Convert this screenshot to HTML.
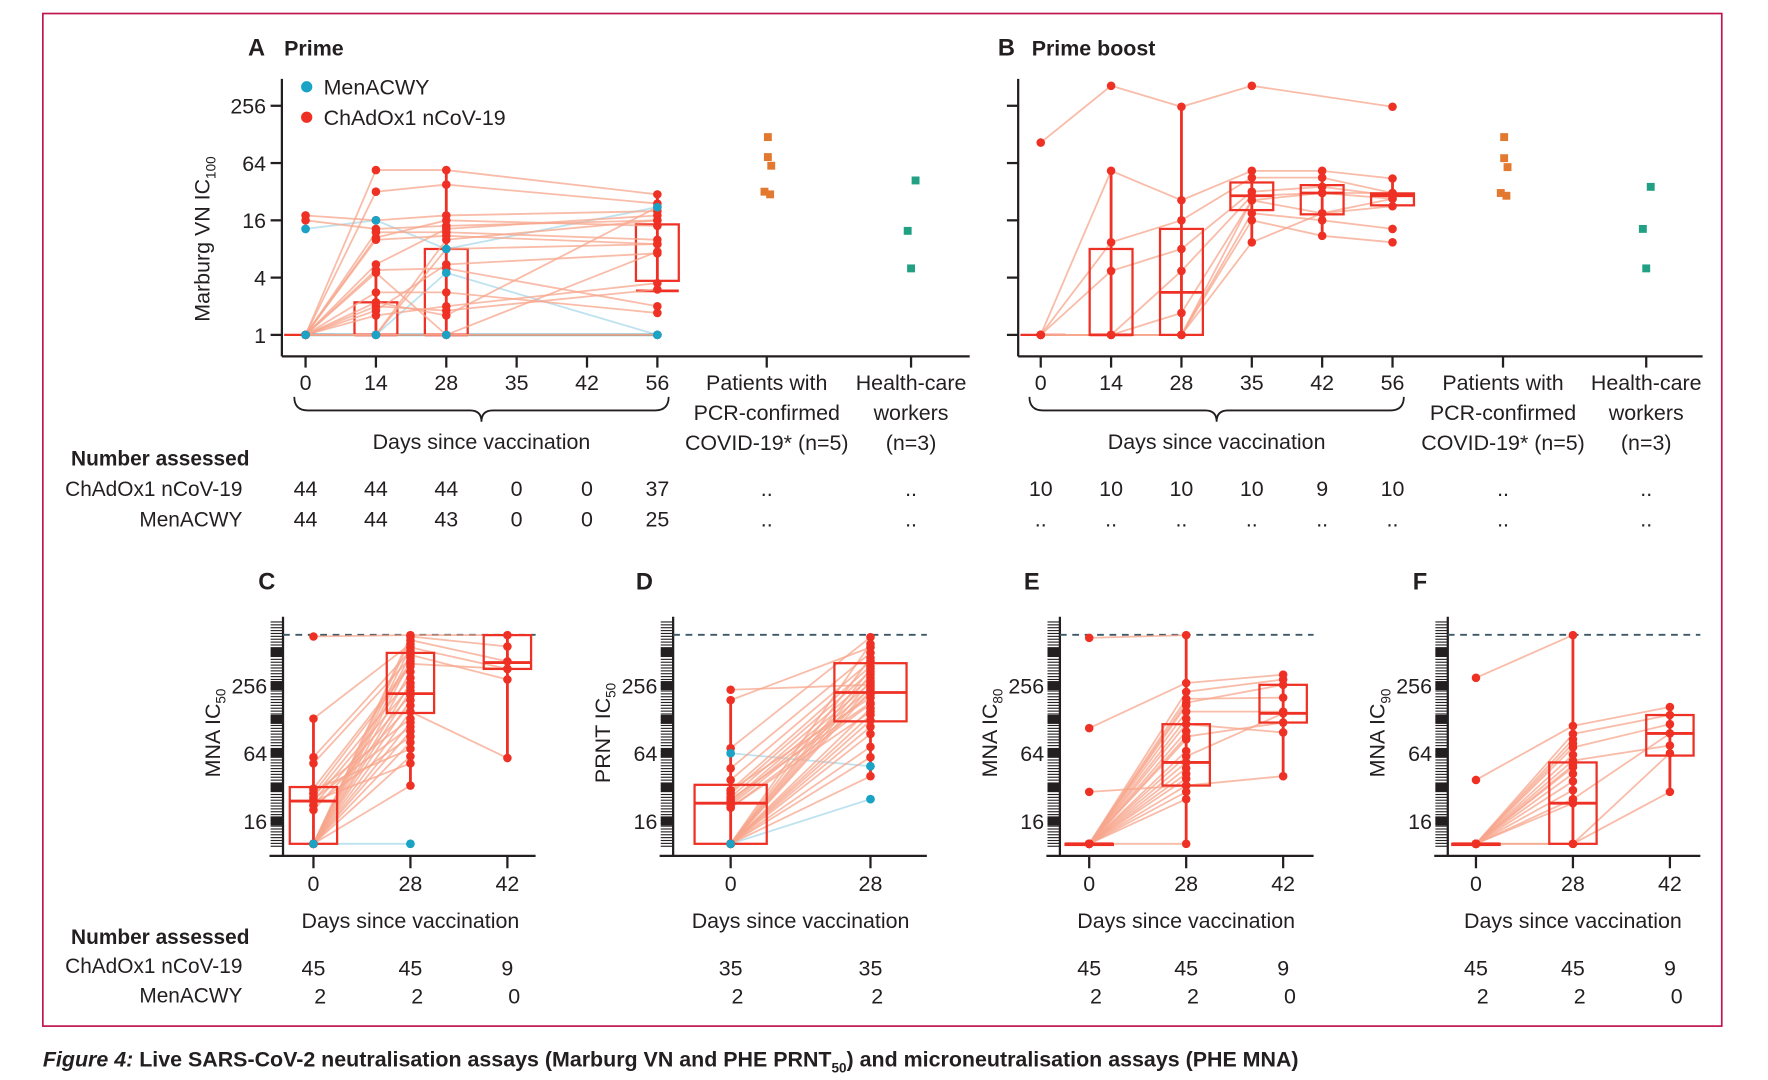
<!DOCTYPE html>
<html><head><meta charset="utf-8"><style>
html,body{margin:0;padding:0;background:#fff}
svg{display:block}
text{font-family:"Liberation Sans",sans-serif;fill:#231f20}
</style></head><body>
<svg id="fig" width="1768" height="1080" viewBox="0 0 1568 957.8" preserveAspectRatio="none" xmlns="http://www.w3.org/2000/svg">
<rect x="38" y="12" width="1489" height="898" fill="none" stroke="#c0164e" stroke-width="1.5"/>
<g id="static">
<text x="220" y="49" font-size="21" font-weight="bold">A</text>
<text x="252" y="49" font-size="19" font-weight="bold">Prime</text>
<text x="885" y="49" font-size="21" font-weight="bold">B</text>
<text x="915" y="49" font-size="19" font-weight="bold">Prime boost</text>
<circle cx="272" cy="77" r="5" fill="#1ba3c6"/>
<text x="287" y="84" font-size="19">MenACWY</text>
<circle cx="272" cy="104" r="5" fill="#ee3124"/>
<text x="287" y="111" font-size="19">ChAdOx1 nCoV-19</text>
<text transform="translate(186,212) rotate(-90)" text-anchor="middle" font-size="19">Marburg VN IC<tspan font-size="12" dy="5">100</tspan></text>
<text x="229" y="523" font-size="21" font-weight="bold">C</text>
<text x="564" y="523" font-size="21" font-weight="bold">D</text>
<text x="908" y="523" font-size="21" font-weight="bold">E</text>
<text x="1253" y="523" font-size="21" font-weight="bold">F</text>
<text x="63" y="413" font-size="18.5" font-weight="bold">Number assessed</text>
<text x="215" y="440" font-size="18.5" text-anchor="end">ChAdOx1 nCoV-19</text>
<text x="215" y="467" font-size="18.5" text-anchor="end">MenACWY</text>
<text x="63" y="837" font-size="18.5" font-weight="bold">Number assessed</text>
<text x="215" y="863" font-size="18.5" text-anchor="end">ChAdOx1 nCoV-19</text>
<text x="215" y="889" font-size="18.5" text-anchor="end">MenACWY</text>
<text x="38" y="946" font-size="19" font-weight="bold"><tspan font-style="italic">Figure 4:</tspan> Live SARS-CoV-2 neutralisation assays (Marburg VN and PHE PRNT<tspan font-size="12" dy="5">50</tspan><tspan dy="-5">) and microneutralisation assays (PHE MNA)</tspan></text>
</g>
<g id="plots"></g>
</svg>
<script>
// ---------- Panel A / B data (Marburg VN IC100) ----------
const topDays = [0, 14, 28, 35, 42, 56];
const topTickValues = [1, 4, 16, 64, 256];
const topTickLabels = ["1", "4", "16", "64", "256"];
// Panel A: participants values at days [0,14,28,56]
const aDays = [0, 14, 28, 56];
const aChad = [
  [1,54,54,30],[1,32,38,24],[18,16,18,20],[16,13,14,16],[1,12,12,10],
  [1,10.5,16,14],[1,10,11,9],[1,5.5,13,18],[1,4.8,5,2],[1,4.5,1,1],
  [1,2.8,2.8,1.7],[1,2,1.8,3],[1,1.8,5.5,7.2],[1,1.6,2,3.5],[1,1,10,16],
  [1,1,8,9],[1,1,1,7.5],[1,1,1,1],[1,2.2,1.6,22]
];
const aMen = [[13,16,8,22],[1,1,4.5,1],[1,1,1,1]];
// boxes: [day, q1, median, q3, whiskerLow, whiskerHigh]
const aBoxes = [[14,1,1,2.2,1,5.5],[28,1,1,8,1,54],[56,3.7,2.9,14.5,3.7,30]];
const aPatients = [120,74,60,32,30];
const aWorkers = [42,12.4,5];
const aCountsChad = ["44","44","44","0","0","37","..",".."];
const aCountsMen = ["44","44","43","0","0","25","..",".."];
// Panel B: participants values at days [0,14,28,35,42,56]
const bChad = [
  [105,415,250,415,null,250],[1,53,26,53,53,44],[1,9.4,16,45,45,31],[1,4.7,8,32,36,29],
  [1,1,4.7,29,31,27],[1,1,1.7,26,19,22.5],[1,1,1,19,16,13],[1,1,1,16,11,9.4],
  [1,1,1,9.4,19,27],[1,1,1,26,31,31]
];
const bBoxes = [[14,1,1,8,1,53],[28,1,2.8,13,1,250],[35,20.5,29,40,9.4,53],[42,18.5,31,37.5,11,53],[56,23,29,30.7,22.5,44]];
const bPatients = [120,72,58,31,29];
const bWorkers = [36,13,5];
const bCountsChad = ["10","10","10","10","9","10","..",".."];
const bCountsMen = ["..","..","..","..","..","..","..",".."];
// ---------- Panels C-F ----------
const lowDays = [0, 28, 42];
const lowTickValues = [16, 64, 256];
const lowTickLabels = ["16", "64", "256"];
const upperLimit = 724;
const cChad = [
  [700,720,720],[10,700,570],[10,650,420],[130,600,null],[10,560,360],[59,520,null],[10,480,290],
  [52,450,null],[10,420,null],[31,400,360],[28,380,null],[10,340,null],[26,300,null],[10,270,null],
  [24,250,null],[10,230,null],[22,210,null],[10,190,null],[20,170,null],[10,150,58],[28,130,null],
  [10,120,null],[25,110,null],[10,100,null],[22,90,null],[10,80,null],[30,70,null],[10,60,null],
  [24,52,null],[10,33,null]
];
const cMen = [[10,10,null]];
const cBoxes = [[0,10,24,32,10,130],[28,146,217,500,33,720],[42,360,410,720,58,720]];
const dChad = [
  [235,260],[190,560],[71,690],[47,500],[37,420],[30,380],[28,340],[26,300],[24,270],[23,240],
  [22,215],[21,175],[10,600],[10,450],[10,360],[10,320],[10,280],[10,250],[10,230],[10,160],
  [10,140],[10,125],[10,110],[10,95],[10,73],[10,59],[10,40],[30,200],[25,180],[21,150]
];
const dMen = [[64,49],[10,25]];
const dBoxes = [[0,10,23,33.5,10,190],[28,123,222,405,40,690]];
const eChad = [
  [680,720,null],[107,270,320],[29,33,40],[10,225,290],[10,195,200],[10,170,null],[10,150,150],
  [10,130,null],[10,116,98],[10,100,null],[10,85,null],[10,67,null],[10,60,145],[10,53,null],
  [10,47,null],[10,42,null],[10,38,null],[10,33,null],[10,29,null],[10,25,null],[10,10,null],
  [10,180,260],[10,90,120]
];
const eBoxes = [[0,10,10,10,10,10],[28,33,53,116,10,720],[42,120,145,260,40,320]];
const fChad = [
  [300,720,null],[37,112,165],[10,95,140],[10,85,null],[10,72,116],[10,62,null],[10,55,75],
  [10,48,null],[10,42,null],[10,36,null],[10,30,null],[10,25,96],[10,23,null],[10,10,64],
  [10,10,29],[10,78,null],[10,50,null]
];
const fBoxes = [[0,10,10,10,10,10],[28,10,23,53,10,720],[42,61,96,140,29,165]];
const countsC = [["45","45","9"],["2","2","0"]];
const countsD = [["35","35"],["2","2"]];
const countsE = [["45","45","9"],["2","2","0"]];
const countsF = [["45","45","9"],["2","2","0"]];

const NS = "http://www.w3.org/2000/svg";
const root = document.getElementById("plots");
function mk(tag, attrs, parent, txt) {
  const e = document.createElementNS(NS, tag);
  for (const k in attrs) e.setAttribute(k, attrs[k]);
  if (txt !== undefined) e.textContent = txt;
  (parent || root).appendChild(e);
  return e;
}
const RED = "#ee3124", LINE = "#f7a58c", BLUE = "#1ba3c6", PALEBLUE = "#a8d8ea";
const log2 = Math.log2;

function drawParticipants(g, rows, days, xf, yf, lineColor, dotColor, name) {
  rows.forEach(r => {
    const pts = [];
    r.forEach((v, i) => { if (v !== null) pts.push([xf(days[i]), yf(v)]); });
    if (pts.length > 1) {
      const pl = mk("polyline", {points: pts.map(p => p.join(",")).join(" "), fill: "none", stroke: lineColor, "stroke-width": 1.6, "stroke-opacity": 0.75}, g);
      
      
    }
  });
  rows.forEach(r => {
    r.forEach((v, i) => {
      if (v === null) return;
      const c = mk("circle", {cx: xf(days[i]), cy: yf(v), r: 3.8, fill: dotColor}, g);
      
      
    });
  });
}
function drawBoxes(g, boxes, xf, yf, hw) {
  boxes.forEach(b => {
    const x = xf(b[0]);
    const w = mk("line", {x1: x, x2: x, y1: yf(b[4]), y2: yf(b[5]), stroke: RED, "stroke-width": 2.5}, g);
    
    
    const lo = Math.min(b[1], b[3]), hi = Math.max(b[1], b[3]);
    const r = mk("rect", {x: x - hw, y: yf(hi), width: 2 * hw, height: Math.max(1, yf(lo) - yf(hi)), fill: "none", stroke: RED, "stroke-width": 2}, g);
    
    
    const m = mk("line", {x1: x - hw, x2: x + hw, y1: yf(b[2]), y2: yf(b[2]), stroke: RED, "stroke-width": 2.5}, g);
    
    
  });
}

// ---------- Top panels ----------
const yTop = v => 297 - log2(v) * 25.4;
function topPanel(cfg) {
  const g = mk("g", {});
  
  
  const xf = d => cfg.x0 + topDays.indexOf(d) * cfg.step;
  mk("line", {x1: cfg.ax, x2: cfg.ax, y1: 70, y2: 316, stroke: "#231f20", "stroke-width": 2}, g);
  mk("line", {x1: cfg.ax, x2: cfg.ax + cfg.len, y1: 316, y2: 316, stroke: "#231f20", "stroke-width": 2}, g);
  topTickValues.forEach((v, i) => {
    mk("line", {x1: cfg.ax - 10, x2: cfg.ax, y1: yTop(v), y2: yTop(v), stroke: "#231f20", "stroke-width": 2}, g);
    if (cfg.labels) {
      const t = mk("text", {x: cfg.ax - 14, y: yTop(v) + 7, "text-anchor": "end", "font-size": 19}, g, topTickLabels[i]);
      
      
    }
  });
  topDays.forEach(d => {
    mk("line", {x1: xf(d), x2: xf(d), y1: 316, y2: 326, stroke: "#231f20", "stroke-width": 2}, g);
    const t = mk("text", {x: xf(d), y: 346, "text-anchor": "middle", "font-size": 19}, g, String(d));
    
    
  });
  [cfg.px, cfg.hx].forEach(x => mk("line", {x1: x, x2: x, y1: 316, y2: 326, stroke: "#231f20", "stroke-width": 2}, g));
  [["Patients with", "PCR-confirmed", "COVID-19* (n=5)"], ["Health-care", "workers", "(n=3)"]].forEach((lines, k) => {
    const x = k === 0 ? cfg.px : cfg.hx;
    lines.forEach((s, j) => {
      const t = mk("text", {x: x, y: 346 + j * 26.5, "text-anchor": "middle", "font-size": 19}, g, s);
      
      
    });
  });
  const b0 = xf(0) - 10, b1 = xf(56) + 10, bm = (b0 + b1) / 2;
  const br = mk("path", {d: `M${b0},352 Q${b0},364 ${b0+12},364 L${bm-10},364 Q${bm},364 ${bm},374 Q${bm},364 ${bm+10},364 L${b1-12},364 Q${b1},364 ${b1},352`, fill: "none", stroke: "#231f20", "stroke-width": 1.6}, g);
  
  
  const dl = mk("text", {x: bm, y: 398, "text-anchor": "middle", "font-size": 19}, g, "Days since vaccination");
  
  
  cfg.draw(g, xf);
  cfg.patients.forEach((v, i) => {
    const s = mk("rect", {x: cfg.px + [1, 1, 4, -2, 3][i] - 3.5, y: yTop(v) - 3.5, width: 7, height: 7, fill: "#e3792f"}, g);
    
    
  });
  cfg.workers.forEach((v, i) => {
    const s = mk("rect", {x: cfg.hx + [4, -3, 0][i] - 3.5, y: yTop(v) - 3.5, width: 7, height: 7, fill: "#22a083"}, g);
    
    
  });
  const cols = topDays.map(xf).concat([cfg.px, cfg.hx]);
  [cfg.c1, cfg.c2].forEach((arr, r) => arr.forEach((s, i) => {
    const t = mk("text", {x: cols[i], y: 440 + r * 27, "text-anchor": "middle", "font-size": 19}, g, s);
    
    
  }));
}
topPanel({name: "panel-a", ax: 250, len: 610, x0: 271, step: 62.4, px: 680, hx: 808, labels: true,
  patients: aPatients, workers: aWorkers, c1: aCountsChad, c2: aCountsMen,
  draw: (g, xf) => {
    mk("line", {x1: 252, x2: 297, y1: yTop(1), y2: yTop(1), stroke: RED, "stroke-width": 2}, g);
    drawParticipants(g, aMen, aDays, xf, yTop, PALEBLUE, BLUE, "menacwy");
    mk("line", {x1: xf(0), x2: xf(56), y1: yTop(1), y2: yTop(1), stroke: "#2a8ea0", "stroke-width": 2.2}, g);
    drawBoxes(g, aBoxes, xf, yTop, 19);
    drawParticipants(g, aChad, aDays, xf, yTop, LINE, RED, "chadox");
    aMen.forEach(r => r.forEach((v, i) => { const c = mk("circle", {cx: xf(aDays[i]), cy: yTop(v), r: 3.8, fill: BLUE}, g);   }));
  }});
topPanel({name: "panel-b", ax: 903, len: 607, x0: 923, step: 62.4, px: 1333, hx: 1460, labels: false,
  patients: bPatients, workers: bWorkers, c1: bCountsChad, c2: bCountsMen,
  draw: (g, xf) => {
    mk("line", {x1: 905, x2: 945, y1: yTop(1), y2: yTop(1), stroke: RED, "stroke-width": 2}, g);
    drawParticipants(g, bChad, topDays, xf, yTop, LINE, RED, "chadox");
    drawBoxes(g, bBoxes, xf, yTop, 19);
  }});

// ---------- Bottom panels ----------
const yLow = v => 728 - (log2(v) - 4) * 30;
function lowPanel(cfg) {
  const g = mk("g", {});
  
  
  const days = lowDays.slice(0, cfg.n);
  const xf = d => cfg.x0 + lowDays.indexOf(d) * cfg.step;
  for (let l = 3.25; l <= 9.95; l += 0.085) {
    const y = 728 - (l - 4) * 30;
    mk("line", {x1: cfg.ax - 11, x2: cfg.ax, y1: y, y2: y, stroke: "#231f20", "stroke-width": 1}, g);
  }
  for (let k = 4; k <= 9; k++) {
    const y = 728 - (k - 4) * 30;
    mk("rect", {x: cfg.ax - 11, y: y - 4, width: 11, height: 8, fill: "#231f20"}, g);
  }
  mk("line", {x1: cfg.ax, x2: cfg.ax, y1: 547, y2: 759, stroke: "#231f20", "stroke-width": 2}, g);
  mk("line", {x1: cfg.ax - 12, x2: cfg.xend, y1: 759, y2: 759, stroke: "#231f20", "stroke-width": 2}, g);
  lowTickValues.forEach((v, i) => {
    const t = mk("text", {x: cfg.ax - 14, y: yLow(v) + 7, "text-anchor": "end", "font-size": 19}, g, lowTickLabels[i]);
    
    
  });
  const yt = mk("text", {transform: `translate(${cfg.ax - 56},650) rotate(-90)`, "text-anchor": "middle", "font-size": 19}, g);
  
  
  yt.appendChild(document.createTextNode(cfg.ylab));
  mk("tspan", {"font-size": 12, dy: 5}, yt, cfg.sub);
  const dash = mk("line", {x1: cfg.ax, x2: cfg.xend, y1: yLow(upperLimit), y2: yLow(upperLimit), stroke: "#3d5866", "stroke-width": 1.6, "stroke-dasharray": "6,5"}, g);
  
  
  days.forEach(d => {
    mk("line", {x1: xf(d), x2: xf(d), y1: 759, y2: 770, stroke: "#231f20", "stroke-width": 2}, g);
    const t = mk("text", {x: xf(d), y: 790, "text-anchor": "middle", "font-size": 19}, g, String(d));
    
    
  });
  const xt = mk("text", {x: cfg.mid, y: 823, "text-anchor": "middle", "font-size": 19}, g, "Days since vaccination");
  
  
  if (cfg.men) drawParticipants(g, cfg.men, days, xf, yLow, PALEBLUE, BLUE, "menacwy");
  drawParticipants(g, cfg.chad, days, xf, yLow, LINE, RED, "chadox");
  drawBoxes(g, cfg.boxes, xf, yLow, cfg.hw);
  if (cfg.men) cfg.men.forEach(r => r.forEach((v, i) => { if (v === null) return; const c = mk("circle", {cx: xf(days[i]), cy: yLow(v), r: 3.8, fill: BLUE}, g);   }));
  cfg.counts.forEach((row, r) => row.forEach((s, i) => {
    const t = mk("text", {x: xf(days[i]) + (r === 1 ? 6 : 0), y: 865 + r * 25, "text-anchor": "middle", "font-size": 19}, g, s);
    
    
  }));
}
lowPanel({name: "panel-c", ax: 251, xend: 475, x0: 278, step: 86, n: 3, mid: 364, ylab: "MNA IC", sub: "50", chad: cChad, men: cMen, boxes: cBoxes, hw: 21, counts: countsC});
lowPanel({name: "panel-d", ax: 597, xend: 822, x0: 648, step: 124, n: 2, mid: 710, ylab: "PRNT IC", sub: "50", chad: dChad, men: dMen, boxes: dBoxes, hw: 32, counts: countsD});
lowPanel({name: "panel-e", ax: 940, xend: 1165, x0: 966, step: 86, n: 3, mid: 1052, ylab: "MNA IC", sub: "80", chad: eChad, men: null, boxes: eBoxes, hw: 21, counts: countsE});
lowPanel({name: "panel-f", ax: 1284, xend: 1508, x0: 1309, step: 86, n: 3, mid: 1395, ylab: "MNA IC", sub: "90", chad: fChad, men: null, boxes: fBoxes, hw: 21, counts: countsF});
</script>
</body></html>
